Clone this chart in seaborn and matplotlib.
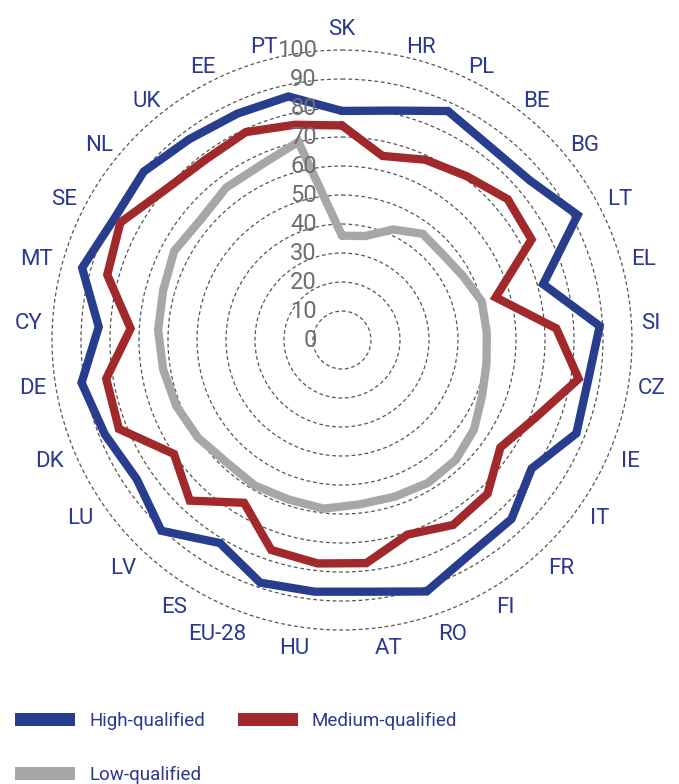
import numpy as np
import pandas as pd
import matplotlib
matplotlib.use("Agg")
import matplotlib.pyplot as plt
import matplotlib.transforms as mtransforms
from matplotlib.patches import Patch
import seaborn as sns

# Share of employed workers by qualification level, per country (%)
countries = ["SK", "HR", "PL", "BE", "BG", "LT", "EL", "SI", "CZ", "IE",
             "IT", "FR", "FI", "RO", "AT", "HU", "EU-28", "ES", "LV", "LU",
             "DK", "DE", "CY", "MT", "SE", "NL", "UK", "EE", "PT"]
high = [79, 81, 87, 84, 85, 92, 72, 89, 86, 87,
        79, 85, 86, 91.5, 87.3, 87.3, 88.3, 81.7, 90.6, 85.5,
        88, 91, 84, 93, 89, 89.7, 87, 86, 86]
medium = [74, 65, 68.5, 71, 75, 74, 55, 74, 82.7, 72,
          66, 73, 74.4, 70.8, 77.4, 77.5, 76.4, 65.5, 76.3, 70,
          82.8, 82.4, 73, 84, 86.5, 80, 78, 79, 76]
low = [36, 36.7, 42, 46, 45.6, 47.2, 50, 50, 50.5, 52,
       55, 57, 57.5, 57, 57, 58.5, 58, 58.5, 58, 60,
       61.5, 62.5, 63.5, 64, 65.5, 64, 66, 66.5, 70]
series_names = ["High-qualified", "Medium-qualified", "Low-qualified"]
radial_ticks = list(range(0, 101, 10))

colors = {"High-qualified": "#283d8e",
          "Medium-qualified": "#a1282b",
          "Low-qualified": "#a7a7a9"}
text_blue = "#2b3990"
tick_grey = "#6e6e6e"

sns.set_theme(style="white")
plt.rcParams["font.family"] = ["Roboto", "DejaVu Sans"]

# Long-form table; each series repeats its first country at 2*pi to close the ring
n = len(countries)
theta = np.linspace(0, 2 * np.pi, n, endpoint=False)
theta_closed = np.append(theta, 2 * np.pi)
frames = []
for name, vals in zip(series_names, [high, medium, low]):
    frames.append(pd.DataFrame({"series": name,
                                "theta": theta_closed,
                                "value": list(vals) + [vals[0]]}))
df = pd.concat(frames, ignore_index=True)

fig = plt.figure(figsize=(6.79, 7.84), dpi=100)
ax = fig.add_axes([0.0723, 0.1927, 0.8627, 0.7472], projection="polar")
ax.set_theta_zero_location("N")
ax.set_theta_direction(-1)

sns.lineplot(data=df, x="theta", y="value", hue="series", hue_order=series_names,
             palette=colors, sort=False, estimator=None, linewidth=6,
             solid_joinstyle="miter", legend=False, ax=ax)

ax.set_ylim(0, 101)
ax.set_xlabel("")
ax.set_ylabel("")
ax.set_xticks([])
ax.xaxis.grid(False)
ax.set_yticks(radial_ticks[1:])
ax.set_yticklabels([])
ax.yaxis.grid(True, color="#555555", linewidth=0.9, linestyle=(0, (3, 2.2)))
ax.spines["polar"].set_visible(False)
ax.set_facecolor("white")

# Radial value labels stacked up the vertical axis
lab_tr = mtransforms.offset_copy(ax.transData, fig=fig, x=-25, y=0, units="dots")
for r in radial_ticks:
    ax.text(0, r, str(r), transform=lab_tr, ha="right", va="center",
            fontsize=17, color=tick_grey, zorder=10)

# Country names around the rim: anchored just outside the 100 ring,
# growing away from the centre on each side
for t, name in zip(theta, countries):
    s, c = np.sin(t), np.cos(t)
    if abs(s) < 1e-6:
        ha = "center"
    elif s > 0:
        ha = "left"
    else:
        ha = "right"
    if abs(s) < 1e-6:
        va = "bottom"
    elif c < -0.3:
        va = "top"
    else:
        va = "center"
    ax.text(t, 103.4, name, ha=ha, va=va, fontsize=16,
            color=text_blue, clip_on=False)

handles = [Patch(facecolor=colors["High-qualified"], edgecolor="none"),
           Patch(facecolor=colors["Low-qualified"], edgecolor="none"),
           Patch(facecolor=colors["Medium-qualified"], edgecolor="none")]
labels = ["High-qualified", "Low-qualified", "Medium-qualified"]
fig.legend(handles, labels, loc="upper left", bbox_to_anchor=(0.022, 0.092),
           ncol=2, frameon=False, fontsize=13.5, labelcolor=text_blue,
           handlelength=3.2, handleheight=0.7, handletextpad=0.75,
           columnspacing=1.75, labelspacing=1.9, borderpad=0, borderaxespad=0)

fig.savefig("out.png", dpi=100, facecolor="white")
